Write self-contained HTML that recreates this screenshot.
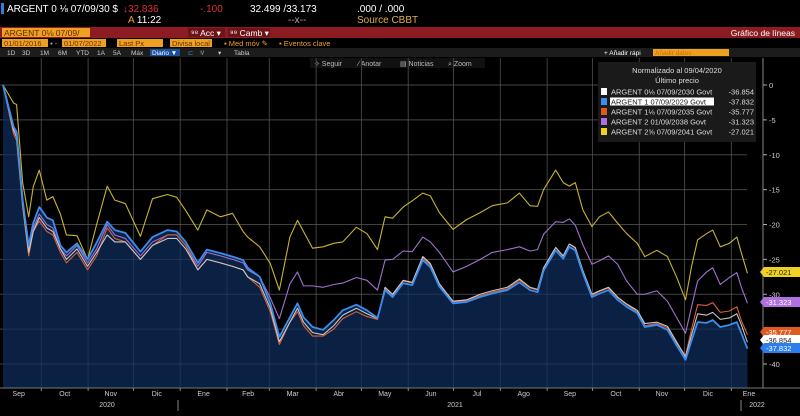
<!DOCTYPE html>
<html><head><meta charset="utf-8"><style>
html,body{margin:0;padding:0;background:#000;width:800px;height:416px;overflow:hidden}
svg{display:block;font-family:"Liberation Sans",sans-serif}
</style></head><body>
<svg id="c" width="800" height="416" viewBox="0 0 800 416">
<rect x="0" y="0" width="800" height="416" fill="#000"/>
<g font-size="10">
<rect x="1" y="3" width="3" height="11" fill="#3a7bd5"/>
<text x="7" y="12" fill="#fff">ARGENT 0 ⅛  07/09/30 $</text>
<text x="123" y="12" fill="#e03030">↓32.836</text>
<text x="200" y="12" fill="#e03030">-.100</text>
<text x="250" y="12" fill="#fff">32.499 /33.173</text>
<text x="357" y="12" fill="#fff">.000 / .000</text>
<text x="128" y="23" fill="#f0a020">A <tspan fill="#fff">11:22</tspan></text>
<text x="288" y="23" fill="#aaa">--x--</text>
<text x="357" y="23" fill="#e0b040">Source CBBT</text>
</g>
<rect x="0" y="27" width="800" height="11" fill="#8c1c22"/>
<rect x="2" y="28" width="88" height="9" fill="#f0a020"/>
<text x="4" y="36" font-size="8.5" fill="#5a2a00">ARGENT 0⅛  07/09/</text>
<rect x="188" y="28" width="37" height="9" fill="#6e1418"/>
<text x="191" y="36" font-size="8.5" fill="#fff">⁹⁸ Acc ▾</text>
<rect x="228" y="28" width="42" height="9" fill="#6e1418"/>
<text x="230" y="36" font-size="8.5" fill="#fff">⁹⁹ Camb ▾</text>
<text x="795" y="36" font-size="8.5" fill="#fff" text-anchor="end">Gráfico de líneas</text>
<g font-size="7.5">
<rect x="2" y="39" width="46" height="8" fill="#f0a020"/>
<text x="4" y="46" fill="#6a3000">01/01/2016</text>
<text x="50" y="46" fill="#aaa">▪ -</text>
<rect x="62" y="39" width="44" height="8" fill="#f0a020"/>
<text x="64" y="46" fill="#6a3000">01/07/2022</text>
<rect x="117" y="39" width="46" height="8" fill="#f0a020"/>
<text x="119" y="46" fill="#6a3000">Last Px</text>
<rect x="170" y="39" width="42" height="8" fill="#f0a020"/>
<text x="172" y="46" fill="#6a3000">Divisa local</text>
<text x="224" y="46" fill="#f0a020">▪ Med móv ✎</text>
<text x="279" y="46" fill="#f0a020">▪ Eventos clave</text>
</g>
<rect x="0" y="48" width="800" height="9" fill="#1c1c1c"/>
<g font-size="6.5" fill="#ccc">
<text x="7" y="55">1D</text><text x="22" y="55">3D</text><text x="40" y="55">1M</text><text x="58" y="55">6M</text><text x="76" y="55">YTD</text><text x="97" y="55">1A</text><text x="113" y="55">5A</text><text x="131" y="55">Máx</text>
<rect x="150" y="49" width="30" height="7" fill="#1a4fa0"/><text x="152" y="55" fill="#fff">Diario ▼</text>
<text x="188" y="55" fill="#4a8ae0">⊏</text><text x="200" y="55">¹/</text><text x="218" y="55">▾</text><text x="234" y="55">Tabla</text>
<text x="604" y="55" fill="#fff">+ Añadir rápi</text>
<rect x="653" y="49" width="76" height="7" fill="#f0a020"/>
<text x="655" y="55" fill="#c07010">Añadir datos</text>
</g>
<g font-size="7" fill="#bbb">
<rect x="310" y="58" width="175" height="10" fill="#111"/>
<text x="314" y="66">✧ Seguir</text><text x="358" y="66">⁄ Anotar</text><text x="400" y="66">▤ Noticias</text><text x="448" y="66">⌕ Zoom</text>
</g>
<g id="grid"></g>
<g id="area"></g>
<g id="lines"></g>
<g id="yaxis"></g>
<g id="xaxis"></g>
<g font-size="7.5">
<rect x="598" y="62" width="158" height="80" fill="#1a1a1a"/>
<text x="677" y="73" fill="#ddd" text-anchor="middle">Normalizado al 09/04/2020</text>
<text x="677" y="83" fill="#ddd" text-anchor="middle">Último precio</text>
<g id="legend-items"></g>
</g>
<g id="tags"></g>
</svg>
<script>
const days = [2,9,11,15,19,22,26,31,35,40,44,51,58,64,71,76,83,93,101,111,117,123,131,137,146,154,161,164,172,179,185,192,197,201,207,214,221,227,236,243,
250,255,260,267,273,280,285,291,300,309,318,326,336,344,351,356,360,368,373,377,381,386,392,397,403,409,415,422,427,435,442,448,454,458,462,468,472,477,483,488,491,495];
const seriesBlue = [0,-6,-6.7,-16.5,-23,-19.8,-17.5,-19,-19.4,-23,-24,-22.7,-25,-22.6,-19.6,-20.8,-21.2,-23.9,-21.8,-20.8,-21,-22.5,-25.5,-23.6,-24.1,-24.6,-25.1,-26.2,-27.5,-31.3,-36.1,-33.3,-31.3,-33.3,-34.7,-35.1,-33.7,-32.3,-31.5,-32.3,
-33.4,-29.4,-30.4,-28.4,-28.7,-25.1,-26.1,-28.9,-31.3,-31.1,-30.4,-29.9,-29.4,-28.3,-29.4,-29.7,-26.6,-23.7,-24.9,-23.2,-23.7,-27,-30.4,-29.9,-29.4,-30.8,-31.8,-32.7,-34.7,-34.4,-35.1,-37.3,-39.4,-36.6,-34,-34.1,-33.7,-34.7,-34.4,-34,-35.6,-37.8];
const seriesWhite = [0,-6.5,-7.5,-17,-24,-21,-19,-20.5,-21,-23.5,-25,-23.5,-26,-24,-21.5,-22.5,-22.5,-25,-23,-22,-22,-23.5,-26.5,-25,-25.5,-26,-26.5,-27.5,-28.5,-32,-36.8,-34,-32,-34,-35.5,-35.8,-34.5,-33,-32,-32.8,
-33.5,-29,-30,-28,-28.3,-24.6,-25.6,-28.5,-31,-30.8,-30,-29.5,-29,-27.8,-29,-29.3,-26.2,-23.3,-24.5,-22.8,-23.3,-26.6,-30,-29.5,-29,-30.4,-31.4,-32.3,-34.2,-34,-34.6,-36.8,-39,-35.8,-32.8,-33,-32.6,-33.6,-33.4,-32.8,-34.4,-36.9];
const seriesOrange = [0,-7,-8,-17.5,-24.5,-21,-19.5,-21,-21.5,-24,-25.5,-24,-26.5,-24.5,-20.5,-22,-22.5,-25,-23,-21.5,-21.5,-23,-26.5,-25,-25.5,-26,-26.5,-27.5,-29,-32.5,-37.2,-34,-32.5,-34.5,-36,-36,-35,-33.5,-32.5,-33.2,
-33.6,-29.2,-30.2,-28.1,-28.4,-24.8,-25.8,-28.6,-31.1,-30.9,-30.2,-29.7,-29.2,-28,-29.1,-29.4,-26.3,-23.3,-24.6,-22.8,-23.4,-26.8,-30.2,-29.6,-29.1,-30.5,-31.5,-32.5,-34.5,-34.2,-34.8,-37,-38.8,-35,-31.5,-31.6,-31.2,-32.6,-32.4,-31.8,-33.8,-35.8];
const seriesPurple = [0,-6.2,-7,-16.8,-23.5,-20.5,-18.5,-20,-20.5,-23.5,-24.5,-23,-25.5,-23.5,-20,-21.5,-22,-24.5,-22.5,-21.5,-21.5,-23,-26,-24,-24.5,-25,-25.5,-26.5,-27.5,-30.5,-33.5,-28.5,-26.8,-28.8,-28.8,-29,-28.6,-28.4,-27.6,-28,
-29.4,-25.1,-25,-23.8,-23.9,-21.8,-22.5,-24,-26.8,-26,-25,-24,-23.6,-23.2,-23.8,-23.6,-21.4,-19.6,-19.7,-19.2,-20.1,-22.9,-25.7,-25.2,-24.5,-25.7,-28.1,-30,-30,-29.5,-31,-33.3,-35.6,-31.8,-28.1,-26.8,-26.2,-28.6,-27.6,-26.9,-29,-31.3];
const seriesYellow = [0,-2.6,-2.8,-14,-18.9,-14.6,-12.2,-16.5,-16,-18.5,-21.5,-21.6,-25,-20,-14.5,-16.5,-17,-21.7,-16.3,-15.7,-16.1,-18,-20.8,-17.9,-18.9,-18.4,-21,-21.8,-23.2,-25.6,-29.4,-21.8,-19.4,-21,-23.4,-23.2,-22.7,-22.5,-20.4,-21.3,
-23.6,-18.9,-19.1,-17.5,-16.6,-15.5,-15.9,-18.3,-20.7,-19.3,-18.3,-17.3,-16.9,-15.5,-17.3,-17.4,-15,-12.2,-14,-14.5,-14,-17.9,-20.3,-18.9,-18.2,-19.8,-21.3,-22.7,-24.6,-23.7,-24.6,-27.5,-30.8,-26,-22.2,-21.3,-20.8,-23.2,-22.7,-21.8,-24.1,-27];
const legendNames = ["ARGENT 0⅛  07/09/2030 Govt","ARGENT 1 07/09/2029 Govt","ARGENT 1⅛  07/09/2035 Govt","ARGENT 2 01/09/2038 Govt","ARGENT 2⅝  07/09/2041 Govt"];
const lastValues = ["-36.854","-37.832","-35.777","-31.323","-27.021"];
const yTicks = [0,-5,-10,-15,-20,-25,-30,-35,-40];
const monthLabels = ["Sep","Oct","Nov","Dic","Ene","Feb","Mar","Abr","May","Jun","Jul","Ago","Sep","Oct","Nov","Dic","Ene"];
const monthStarts = [0,30,61,91,122,153,181,212,242,273,303,334,365,395,426,456,487];
const yearLabels = ["2020","2021","2022"];

const NS="http://www.w3.org/2000/svg";
const X0=0, XR=747, YB=388;
function xS(d){return X0+d*1.51;}
function yS(v){return 85-v*6.975;}
function mk(tag,attrs,parent){const e=document.createElementNS(NS,tag);for(const k in attrs)e.setAttribute(k,attrs[k]);parent.appendChild(e);return e;}
const grid=document.getElementById('grid');
yTicks.forEach(t=>{const l=mk('line',{x1:0,x2:XR,y1:yS(t),y2:yS(t),stroke:'#333','stroke-width':1},grid);

});
monthStarts.forEach(m=>{const x=xS(m)-4;if(x<5||x>XR)return;const l=mk('line',{x1:x,x2:x,y1:58,y2:YB,stroke:'#333','stroke-width':1},grid);

});
let pts=days.map((d,i)=>xS(d)+','+yS(seriesBlue[i]));
const area=mk('polygon',{points:xS(days[0])+','+YB+' '+pts.join(' ')+' '+xS(days[days.length-1])+','+YB,fill:'#0b2348',opacity:0.93},document.getElementById('area'));


yTicks.forEach(t=>{const l=mk('line',{x1:0,x2:XR,y1:yS(t),y2:yS(t),stroke:'#ffffff','stroke-opacity':0.08},document.getElementById('area'));

});
monthStarts.forEach(m=>{const x=xS(m)-4;if(x<5||x>XR)return;const l=mk('line',{x1:x,x2:x,y1:58,y2:YB,stroke:'#ffffff','stroke-opacity':0.07},document.getElementById('area'));

});
const series=[[seriesYellow,'#c8b432','series-2041'],[seriesPurple,'#a070d0','series-2038'],[seriesOrange,'#d8603a','series-2035'],[seriesWhite,'#c8c8c8','series-2030'],[seriesBlue,'#3a8ef0','series-2029']];
const lines=document.getElementById('lines');
series.forEach(s=>{const p=mk('polyline',{points:days.map((d,i)=>xS(d)+','+yS(s[0][i])).join(' '),fill:'none',stroke:s[1],'stroke-width':s[2]==='series-2029'?1.8:1.1,'stroke-linejoin':'round'},lines);

});
const ya=document.getElementById('yaxis');
mk('line',{x1:763,x2:763,y1:58,y2:YB,stroke:'#888'},ya);
yTicks.forEach(t=>{mk('line',{x1:763,x2:767,y1:yS(t),y2:yS(t),stroke:'#aaa'},ya);
const tx=mk('text',{x:769,y:yS(t)+3,fill:'#ccc','font-size':7.5},ya);tx.textContent=t===0?'0':String(t);

});
const xa=document.getElementById('xaxis');
mk('line',{x1:0,x2:800,y1:YB,y2:YB,stroke:'#777'},xa);
monthLabels.forEach((m,i)=>{const s=xS(monthStarts[i])-4;const e=i+1<monthStarts.length?xS(monthStarts[i+1])-4:s+46;
mk('line',{x1:s,x2:s,y1:YB,y2:YB+3,stroke:'#888'},xa);
const tx=mk('text',{x:Math.min((s+e)/2,749),y:396,fill:'#ccc','font-size':7,'text-anchor':'middle'},xa);tx.textContent=m;

});
[[107,yearLabels[0]],[455,yearLabels[1]],[757,yearLabels[2]]].forEach(y=>{const tx=mk('text',{x:y[0],y:407,fill:'#ccc','font-size':7,'text-anchor':'middle'},xa);tx.textContent=y[1];

});
[178,741].forEach(x=>mk('line',{x1:x,x2:x,y1:400,y2:411,stroke:'#888'},xa));
const li=document.getElementById('legend-items');
const lcol=['#ffffff','#3a8ef0','#e05a20','#b070e0','#f0d020'];
legendNames.forEach((n,i)=>{const y=88+i*10;
mk('rect',{x:601,y:y,width:6,height:7,fill:lcol[i]},li);
if(i===1)mk('rect',{x:610,y:y-0.5,width:104,height:8,fill:'#fff'},li);
const tx=mk('text',{x:611,y:y+6.5,fill:i===1?'#222':'#ddd','font-size':7.5},li);tx.textContent=n;


const tv=mk('text',{x:754,y:y+6.5,fill:'#ddd','font-size':7.5,'text-anchor':'end'},li);tv.textContent=lastValues[i];

});
const tg=document.getElementById('tags');
const tagOrder=[[4,'#f0d020','#222'],[3,'#b070e0','#fff'],[2,'#e05a20','#fff'],[0,'#ffffff','#222'],[1,'#2a7ef0','#fff']];
const tagY={4:272,3:302,2:332,0:340,1:348};
tagOrder.forEach(t=>{const y=tagY[t[0]];
mk('polygon',{points:`760,${y} 764,${y-5} 800,${y-5} 800,${y+5} 764,${y+5}`,fill:t[1]},tg);
const tx=mk('text',{x:766,y:y+3,fill:t[2],'font-size':7.5},tg);tx.textContent=lastValues[t[0]];

});
</script>
</body></html>
